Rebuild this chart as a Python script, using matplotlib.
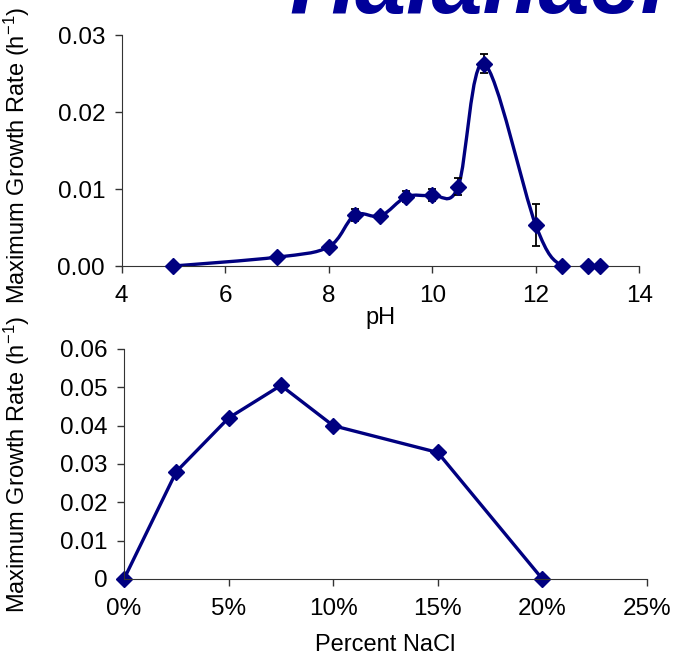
import matplotlib
matplotlib.use("Agg")
import matplotlib.pyplot as plt
from matplotlib.path import Path
from matplotlib.patches import PathPatch
from matplotlib.ticker import FuncFormatter, PercentFormatter

# growth vs pH
ph = [5, 7, 8, 8.5, 9, 9.5, 10, 10.5, 11, 12, 12.5, 13, 13.25]
rate_ph = [0.0, 0.00115, 0.0025, 0.0066, 0.0065, 0.0090, 0.0092, 0.0103,
           0.0263, 0.0053, 0.0, 0.0, 0.0]
err_ph = [0, 0, 0, 0.0008, 0, 0.0007, 0.0008, 0.0011, 0.0012, 0.0027, 0, 0, 0]

# growth vs salt
nacl = [0.0, 0.025, 0.05, 0.075, 0.10, 0.15, 0.20]
rate_nacl = [0.0, 0.028, 0.042, 0.0505, 0.040, 0.033, 0.0]

navy = "#000080"
plt.rcParams["font.family"] = ["Liberation Sans", "DejaVu Sans"]
plt.rcParams["mathtext.default"] = "regular"
plt.rcParams["font.size"] = 17.5


def smooth_path(xs, ys):
    # excel style smoothed line: cubic bezier through every point
    verts = [(xs[0], ys[0])]
    codes = [Path.MOVETO]
    n = len(xs)
    for i in range(n - 1):
        x0, y0 = (xs[i - 1], ys[i - 1]) if i > 0 else (xs[i], ys[i])
        x3, y3 = (xs[i + 2], ys[i + 2]) if i + 2 < n else (xs[i + 1], ys[i + 1])
        c1 = (xs[i] + (xs[i + 1] - x0) / 6, ys[i] + (ys[i + 1] - y0) / 6)
        c2 = (xs[i + 1] - (x3 - xs[i]) / 6, ys[i + 1] - (y3 - ys[i]) / 6)
        verts += [c1, c2, (xs[i + 1], ys[i + 1])]
        codes += [Path.CURVE4] * 3
    return Path(verts, codes)


def style(ax):
    for s in ["top", "right"]:
        ax.spines[s].set_visible(False)
    for s in ["left", "bottom"]:
        ax.spines[s].set_color("#333333")
    ax.tick_params(direction="out", length=5, width=1, color="#333333")
    ax.tick_params(axis="x", pad=9)
    ax.tick_params(axis="y", pad=7)


fig = plt.figure(figsize=(6.75, 6.56), dpi=100)
fig.set_facecolor("white")

ax1 = fig.add_axes([0.1803, 0.5945, 0.7668, 0.3521])
style(ax1)
ax1.add_patch(PathPatch(smooth_path(ph, rate_ph), fill=False, edgecolor=navy, lw=2.4, zorder=2))
ax1.errorbar(ph, rate_ph, yerr=err_ph, fmt="none", ecolor="black", elinewidth=1.3,
             capsize=3, capthick=1.3, zorder=3)
ax1.plot(ph, rate_ph, ls="none", marker="D", ms=8, color=navy, zorder=4, clip_on=False)
ax1.set_xlim(4, 14)
ax1.set_ylim(0, 0.03)
ax1.set_xticks([4, 6, 8, 10, 12, 14])
ax1.set_yticks([0, 0.01, 0.02, 0.03])
ax1.yaxis.set_major_formatter(FuncFormatter(lambda v, p: f"{v:.2f}"))
ax1.set_xlabel("pH", labelpad=0, fontsize=17)

ax2 = fig.add_axes([0.1837, 0.1174, 0.7748, 0.3506])
style(ax2)
ax2.plot(nacl, rate_nacl, color=navy, lw=2.4, marker="D", ms=8, clip_on=False)
ax2.set_xlim(0, 0.25)
ax2.set_ylim(0, 0.06)
ax2.set_xticks([0, 0.05, 0.10, 0.15, 0.20, 0.25])
ax2.set_yticks([0, 0.01, 0.02, 0.03, 0.04, 0.05, 0.06])
ax2.xaxis.set_major_formatter(PercentFormatter(1, decimals=0))
ax2.yaxis.set_major_formatter(FuncFormatter(lambda v, p: "0" if v == 0 else f"{v:.2f}"))
ax2.set_xlabel("Percent NaCl", labelpad=10, fontsize=17)

ylab = "Maximum Growth Rate (h$^{-1}$)"
fig.text(17 / 675, 1 - 155 / 656, ylab, rotation=90, ha="center", va="center", fontsize=17)
fig.text(17 / 675, 1 - 464 / 656, ylab, rotation=90, ha="center", va="center", fontsize=17)

fig.text(289 / 675, 1 - 13 / 656, "Halanaerobium", fontsize=66, fontweight="bold",
         fontstyle="italic", color="#000099", ha="left", va="baseline")

fig.savefig("out.png", dpi=100)
